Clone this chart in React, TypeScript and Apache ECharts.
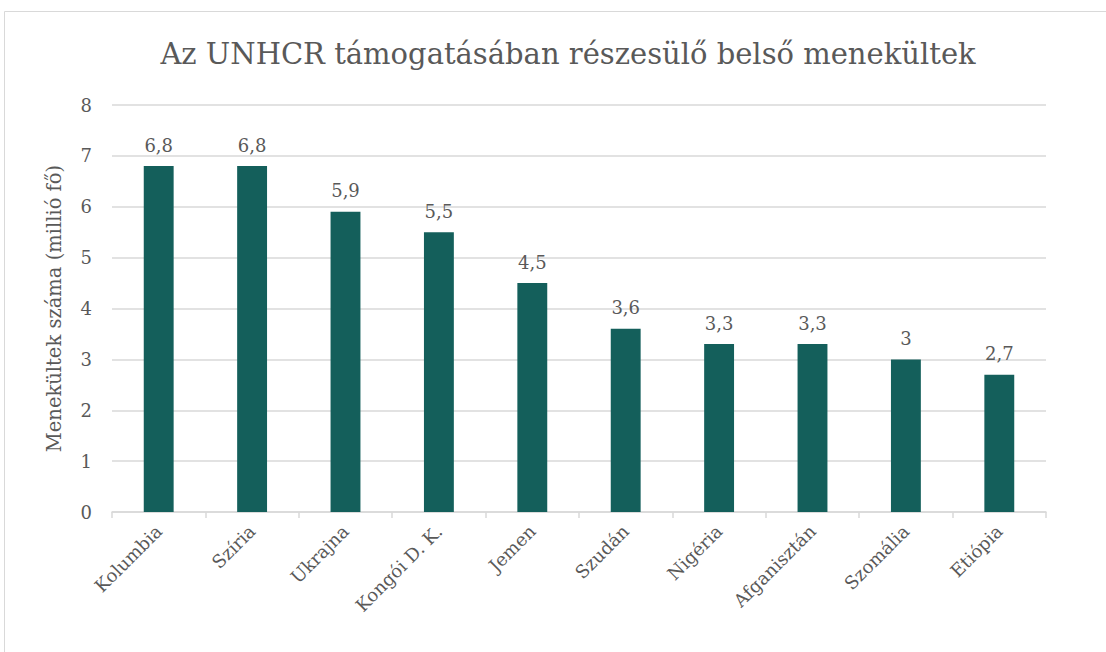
import React, { useEffect, useRef } from "react";
import * as echarts from "echarts";

const categories = ["Kolumbia", "Szíria", "Ukrajna", "Kongói D. K.", "Jemen", "Szudán", "Nigéria", "Afganisztán", "Szomália", "Etiópia"];
const values = [6.8, 6.8, 5.9, 5.5, 4.5, 3.6, 3.3, 3.3, 3, 2.7];
const yTicks = [0, 1, 2, 3, 4, 5, 6, 7, 8];

const FONT = "DejaVu Serif";
const TEXT = "#595959";

export default function App() {
  const ref = useRef<HTMLDivElement>(null);
  useEffect(() => {
    document.body.style.margin = "0";
    const chart = echarts.init(ref.current!, null, { renderer: "svg" });
    chart.setOption({
      animation: false,
      backgroundColor: "#ffffff",
      textStyle: { fontFamily: FONT },
      title: {
        text: "Az UNHCR támogatásában részesülő belső menekültek",
        left: 563,
        textAlign: "center",
        top: 34,
        textStyle: { fontFamily: FONT, fontSize: 29, fontWeight: "normal", color: TEXT },
      },
      graphic: [
        {
          type: "rect",
          shape: { x: 4.5, y: 11.5, width: 1120, height: 660 },
          style: { fill: "none", stroke: "#d9d9d9", lineWidth: 1 },
          silent: true,
        },
      ],
      grid: { left: 112, right: 60, top: 105, bottom: 140, containLabel: false },
      xAxis: {
        type: "category",
        data: categories,
        axisLine: { lineStyle: { color: "#d9d9d9", width: 1.5 } },
        axisTick: { show: true, alignWithLabel: false, length: 6, lineStyle: { color: "#d9d9d9", width: 1.5 } },
        axisLabel: { rotate: 45, fontFamily: FONT, fontSize: 18, color: TEXT, margin: 16, interval: 0 },
      },
      yAxis: {
        type: "value",
        min: 0,
        max: 8,
        interval: 1,
        name: "Menekültek száma (millió fő)",
        nameLocation: "middle",
        nameGap: 48,
        nameTextStyle: { fontFamily: FONT, fontSize: 19.5, color: TEXT },
        axisLine: { show: false },
        axisTick: { show: false },
        axisLabel: {
          fontFamily: FONT,
          fontSize: 18,
          color: TEXT,
          margin: 20,
          formatter: (v: number) => (yTicks.includes(v) ? String(v) : ""),
        },
        splitLine: { lineStyle: { color: "#d9d9d9", width: 1.5 } },
      },
      series: [
        {
          type: "bar",
          data: values,
          barWidth: "32%",
          itemStyle: { color: "#145f5b" },
          label: {
            show: true,
            position: "top",
            distance: 12,
            fontFamily: FONT,
            fontSize: 18,
            color: TEXT,
            formatter: (p: any) => String(p.value).replace(".", ","),
          },
        },
      ],
    });
    return () => chart.dispose();
  }, []);
  return <div ref={ref} style={{ width: 1106, height: 652 }} />;
}
